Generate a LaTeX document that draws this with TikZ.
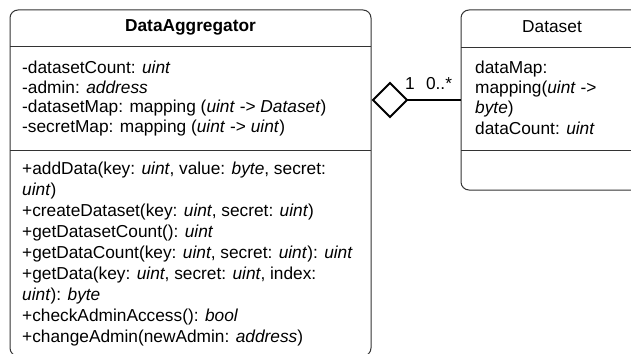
\documentclass[tikz,border=0pt]{standalone}
\usepackage{fontspec}
\setmainfont{Liberation Sans}
\usetikzlibrary{shapes.geometric}
\begin{document}
\begin{tikzpicture}[x=1pt,y=-1pt,
  txt/.style={anchor=base west, inner sep=0pt, font=\fontsize{17.3}{20}\selectfont},
  ttl/.style={anchor=base, inner sep=0pt, font=\fontsize{17.3}{20}\selectfont\bfseries},
  ttlplain/.style={anchor=base, inner sep=0pt, font=\fontsize{17.3}{20}\selectfont},
  lbl/.style={anchor=base, inner sep=0pt, font=\fontsize{17.3}{20}\selectfont},
  cls/.style={draw=black!80, line width=1pt, rounded corners=8pt, anchor=north west, inner sep=0pt, outer sep=0pt},
  sepline/.style={draw=black!80, line width=1pt},
  aggline/.style={draw=black, line width=2pt}]
\useasboundingbox (0,0) rectangle (631,353);
\clip (0,0) rectangle (631,353);

% classes
\node[cls, minimum width=361pt, minimum height=346pt] (agg) at (10,10) {};
\node[cls, minimum width=182pt, minimum height=180pt] (ds) at (461,10) {};

% compartments
\draw[sepline] (agg.west |- 0,47) -- (agg.east |- 0,47);
\draw[sepline] (agg.west |- 0,150.5) -- (agg.east |- 0,150.5);
\draw[sepline] (ds.west |- 0,47.5) -- (ds.east |- 0,47.5);
\draw[sepline] (ds.west |- 0,150) -- (ds.east |- 0,150);

% titles
\node[ttl] (aggtitle) at (190.5,32) {DataAggregator};
\node[ttlplain] (dstitle) at (552,32.5) {Dataset};

% attributes
\foreach \t [count=\i] in {
  {-datasetCount: \textit{uint}},
  {-admin: \textit{address}},
  {-datasetMap: mapping (\textit{uint} -> \textit{Dataset})},
  {-secretMap: mapping (\textit{uint} -> \textit{uint})}}
  \node[txt] (attr\i) at (22,{73.5+19.7*(\i-1)}) {\t};

% methods
\foreach \t [count=\i] in {
  {+addData(key: \textit{uint}, value: \textit{byte}, secret:},
  {\textit{uint})},
  {+createDataset(key: \textit{uint}, secret: \textit{uint})},
  {+getDatasetCount(): \textit{uint}},
  {+getDataCount(key: \textit{uint}, secret: \textit{uint}): \textit{uint}},
  {+getData(key: \textit{uint}, secret: \textit{uint}, index:},
  {\textit{uint}): \textit{byte}},
  {+checkAdminAccess(): \textit{bool}},
  {+changeAdmin(newAdmin: \textit{address})}}
  \node[txt] (meth\i) at (22,{174+21*(\i-1)}) {\t};

% dataset attributes
\foreach \t [count=\i] in {
  {dataMap:},
  {mapping(\textit{uint} ->},
  {\textit{byte})},
  {dataCount: \textit{uint}}}
  \node[txt] (dsattr\i) at (475,{73.5+20.2*(\i-1)}) {\t};

% aggregation
\node[diamond, draw=black, line width=2pt, minimum width=34pt, minimum height=34pt, inner sep=0pt, outer sep=0pt] (dia) at (390,100) {};
\draw[aggline] (dia.east) -- (ds.west);
\node[lbl] (mult1) at (410,89) {1};
\node[lbl] (mult2) at (439,89) {0..*};
\end{tikzpicture}
\end{document}
